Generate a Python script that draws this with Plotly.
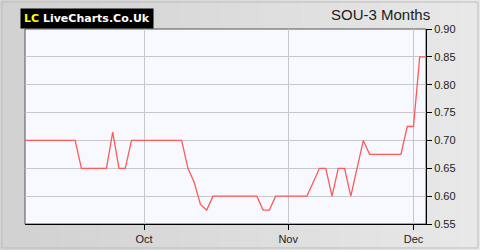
import plotly.graph_objects as go
import pandas as pd

# trading days (weekdays) shown on the chart
dates = [d.strftime("%Y-%m-%d") for d in pd.bdate_range("2025-09-04", "2025-12-03")]

prices = [
    0.70, 0.70, 0.70, 0.70, 0.70, 0.70, 0.70, 0.70, 0.70,
    0.65, 0.65, 0.65, 0.65, 0.65,
    0.715,
    0.65, 0.65,
    0.70, 0.70, 0.70, 0.70, 0.70, 0.70, 0.70, 0.70, 0.70,
    0.65, 0.625, 0.585, 0.575,
    0.60, 0.60, 0.60, 0.60, 0.60, 0.60, 0.60, 0.60,
    0.575, 0.575,
    0.60, 0.60, 0.60, 0.60, 0.60, 0.60,
    0.625, 0.65, 0.65, 0.60, 0.65, 0.65, 0.60, 0.65, 0.70,
    0.675, 0.675, 0.675, 0.675, 0.675, 0.675,
    0.725, 0.725,
    0.85, 0.85,
]

tick_dates = ["2025-10-01", "2025-11-03", "2025-12-01"]
tick_labels = ["Oct", "Nov", "Dec"]
y_ticks = [0.55, 0.60, 0.65, 0.70, 0.75, 0.80, 0.85, 0.90]

title_text = "SOU-3 Months"

fig = go.Figure()
fig.add_trace(go.Scatter(
    x=dates, y=prices, mode="lines",
    line=dict(color="#ff5a5a", width=1.3),
    hoverinfo="skip", showlegend=False,
))

# background gradient strips
shapes = []
n = 24
for i in range(n):
    t = i / (n - 1)
    c = int(0xd2 + (0xe8 - 0xd2) * t)
    col = f"rgb({c},{c},{c})"
    shapes.append(dict(type="rect", xref="paper", yref="paper",
                       x0=-25/401 + i * (480/401) / n, x1=-25/401 + (i + 1) * (480/401) / n + 0.002,
                       y0=-26/195, y1=1 + 29/195,
                       fillcolor=col, line=dict(width=0), layer="below"))
# outer border
shapes.append(dict(type="rect", xref="paper", yref="paper",
                   x0=-23/401, x1=1 + 52/401, y0=-24/195, y1=1 + 27/195,
                   fillcolor="rgba(0,0,0,0)", line=dict(color="#bdbdbd", width=1), layer="below"))
# plot background
shapes.append(dict(type="rect", xref="paper", yref="paper",
                   x0=0, x1=1, y0=0, y1=1,
                   fillcolor="#f8f8ff", line=dict(color="#555555", width=1), layer="below"))

fig.update_layout(
    width=480, height=250,
    margin=dict(l=25, r=54, t=29, b=26, autoexpand=False),
    paper_bgcolor="#dedede",
    plot_bgcolor="rgba(0,0,0,0)",
    shapes=shapes,
    font=dict(family="Liberation Sans, Arial", size=11, color="#222222"),
    xaxis=dict(
        type="category", automargin=False,
        range=[0, len(dates) - 1],
        tickvals=tick_dates, ticktext=tick_labels,
        showgrid=True, gridcolor="#c8c8c8", gridwidth=1,
        ticks="outside", ticklen=5, tickcolor="#000000",
        showline=True, linecolor="#000000", linewidth=1,
        zeroline=False, fixedrange=True,
    ),
    yaxis=dict(
        side="right", automargin=False,
        range=[0.55, 0.90],
        tickvals=y_ticks, tickformat=".2f",
        showgrid=True, gridcolor="#c8c8c8", gridwidth=1,
        ticks="outside", ticklen=5, tickcolor="#000000",
        showline=True, linecolor="#000000", linewidth=1,
        zeroline=False, fixedrange=True,
    ),
    annotations=[
        dict(xref="paper", yref="paper", x=-5/401, y=1 + 21/195,
             xanchor="left", yanchor="top",
             text="<b><span style='color:#ffff00'>LC</span> LiveCharts.Co.Uk</b>",
             showarrow=False, bgcolor="#000000", borderpad=3,
             font=dict(family="DejaVu Sans", size=11, color="#ffffff")),
        dict(xref="paper", yref="paper", x=1 + 6/401, y=1 + 25/195,
             xanchor="right", yanchor="top",
             text=title_text, showarrow=False,
             font=dict(family="Liberation Sans, Arial", size=15, color="#1a1a1a")),
    ],
)

fig.write_html("out.html")
